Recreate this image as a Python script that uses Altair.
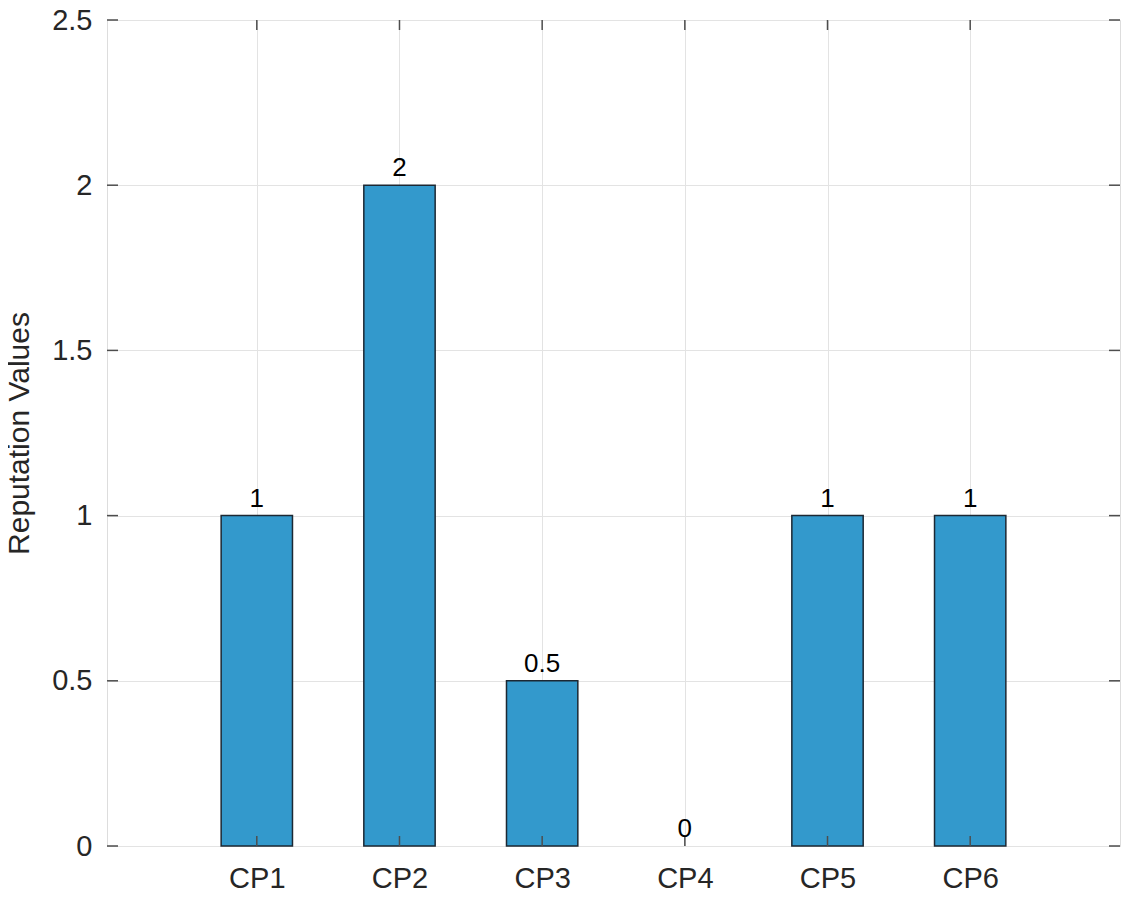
import altair as alt
import pandas as pd

categories = ["CP1", "CP2", "CP3", "CP4", "CP5", "CP6"]
positions = [1, 2, 3, 4, 5, 6]
values = [1, 2, 0.5, 0, 1, 1]
value_labels = ["1", "2", "0.5", "0", "1", "1"]
y_ticks = [0, 0.5, 1, 1.5, 2, 2.5]

df = pd.DataFrame({"cat": categories, "pos": positions, "val": values, "lab": value_labels})
ydf = pd.DataFrame({"t": y_ticks})

W, H = 1013, 826
FONT = "Liberation Sans"
FRAME = "#4d4d4d"
xscale = alt.Scale(domain=[-0.05, 7.05], nice=False, zero=False)
yscale = alt.Scale(domain=[0, 2.5], nice=False, zero=False)
label_expr = "[" + ",".join(f"'{c}'" for c in categories) + "][datum.value - 1]"

xaxis = alt.Axis(values=positions, labelExpr=label_expr, title=None, grid=True,
                 gridColor="#e3e3e3", gridWidth=1, ticks=False, tickSize=0, domain=False,
                 labelFontSize=29, labelColor="#262626", labelFont=FONT, labelPadding=18,
                 labelAngle=0)
yaxis = alt.Axis(values=y_ticks, title="Reputation Values", grid=True,
                 gridColor="#e3e3e3", gridWidth=1, ticks=False, tickSize=0, domain=False,
                 labelFontSize=29, labelColor="#262626", labelFont=FONT, labelPadding=15,
                 titleFont=FONT, titleFontSize=30, titleColor="#262626",
                 titleFontWeight="normal", titlePadding=17,
                 labelExpr="datum.value === 0 ? '0' : format(datum.value, '.1~f')")

bars = (alt.Chart(df)
        .transform_filter("datum.val > 0")
        .transform_calculate(x0="datum.pos - 0.25", x1="datum.pos + 0.25")
        .mark_rect(color="#3399cc", stroke="#1c2833", strokeWidth=1.5)
        .encode(x=alt.X("x0:Q", scale=xscale, axis=xaxis),
                x2="x1:Q",
                y=alt.Y("val:Q", scale=yscale, axis=yaxis),
                y2=alt.datum(0)))

texts = (alt.Chart(df)
         .mark_text(baseline="bottom", dy=-4, fontSize=26, font=FONT, color="black")
         .encode(x=alt.X("pos:Q", scale=xscale),
                 y=alt.Y("val:Q", scale=yscale),
                 text="lab:N"))

tick_bottom = (alt.Chart(df).mark_rule(color=FRAME, strokeWidth=1.5)
               .encode(x=alt.X("pos:Q", scale=xscale), y=alt.value(H), y2=alt.value(H - 10)))
tick_top = (alt.Chart(df).mark_rule(color=FRAME, strokeWidth=1.5)
            .encode(x=alt.X("pos:Q", scale=xscale), y=alt.value(0), y2=alt.value(10)))
tick_left = (alt.Chart(ydf).mark_rule(color=FRAME, strokeWidth=1.5)
             .encode(y=alt.Y("t:Q", scale=yscale), x=alt.value(0), x2=alt.value(11)))
tick_right = (alt.Chart(ydf).mark_rule(color=FRAME, strokeWidth=1.5)
              .encode(y=alt.Y("t:Q", scale=yscale), x=alt.value(W - 11), x2=alt.value(W)))

chart = (alt.layer(bars, tick_bottom, tick_top, tick_left, tick_right, texts)
         .properties(width=W, height=H,
                     autosize=alt.AutoSizeParams(type="none"),
                     padding={"left": 99, "top": 12, "right": 1, "bottom": 46})
         .configure_view(stroke=FRAME, strokeWidth=1.5)
         .configure(font=FONT, background="white"))

chart.save("out.html", embed_options={"renderer": "svg", "actions": False})
